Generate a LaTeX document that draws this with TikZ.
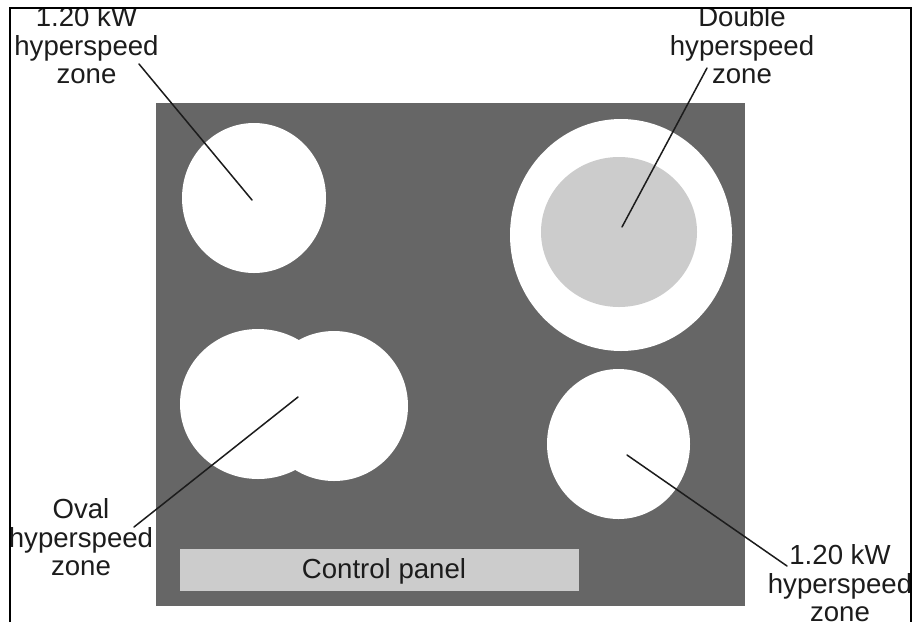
\documentclass[tikz,border=0pt]{standalone}
\usepackage{fontspec}
\setmainfont{Liberation Sans}
\definecolor{panelgrey}{HTML}{666666}
\definecolor{lightgrey}{HTML}{CCCCCC}
\definecolor{inkgrey}{HTML}{1C1C1C}
\usetikzlibrary{shapes.geometric}
\tikzset{
  zone/.style={ellipse,draw=none,fill=white,inner sep=0pt,outer sep=0pt},
  lbl/.style={anchor=south,align=center,inner sep=0pt,outer sep=0pt,text=inkgrey,font=\fontsize{27.6}{28.5}\selectfont},
  leader/.style={draw=inkgrey,line width=1.5pt,line cap=round},
}
\begin{document}
\begin{tikzpicture}[x=1pt,y=-1pt]
\useasboundingbox (0,0) rectangle (915,622);
\fill[white] (0,0) rectangle (915,622);
\node[fill=panelgrey,inner sep=0pt,outer sep=0pt,minimum width=588.5pt,minimum height=503pt] (panel) at (450.25,354.5) {};
\node[zone,minimum width=144pt,minimum height=150pt] (tl) at (254,198) {};
\node[zone,minimum width=222pt,minimum height=232pt] (tr) at (621,235) {};
\node[zone,fill=lightgrey,minimum width=156pt,minimum height=150pt] (trinner) at (619,232) {};
\node[zone,minimum width=143pt,minimum height=150pt] (br) at (618.5,444) {};
\node[zone,minimum width=156pt,minimum height=150pt] (ovala) at (258,404) {};
\node[zone,minimum width=148pt,minimum height=150pt] (ovalb) at (334,406) {};
\node[fill=lightgrey,inner sep=0pt,outer sep=0pt,minimum width=399pt,minimum height=42pt] (control) at (379.5,570) {};
\node[anchor=base,inner sep=0pt,text=inkgrey,font=\fontsize{27.6}{28.5}\selectfont] (controltext) at (384,578.5) {Control panel};
\begin{scope}
\clip (9.5,8) rectangle (915,622);
\node[lbl] (l1) at (86.5,84) {1.20 kW\\hyperspeed\\zone};
\node[lbl] (l2) at (742,84) {Double\\hyperspeed\\zone};
\node[lbl] (l3) at (81,576) {Oval\\hyperspeed\\zone};
\node[lbl] (l4) at (840,622) {1.20 kW\\hyperspeed\\zone};
\end{scope}
\coordinate (a1) at (139,64); \coordinate (b1) at (252,200);
\coordinate (a2) at (707,68); \coordinate (b2) at (622,227);
\coordinate (a3) at (134,527); \coordinate (b3) at (298,397);
\coordinate (a4) at (787,566); \coordinate (b4) at (627,455);
\draw[leader] (a1) -- (b1);
\draw[leader] (a2) -- (b2);
\draw[leader] (a3) -- (b3);
\draw[leader] (a4) -- (b4);
\draw[black,line width=2pt] (9.5,622) -- (9.5,8) -- (911,8) -- (911,622);
\end{tikzpicture}
\end{document}
